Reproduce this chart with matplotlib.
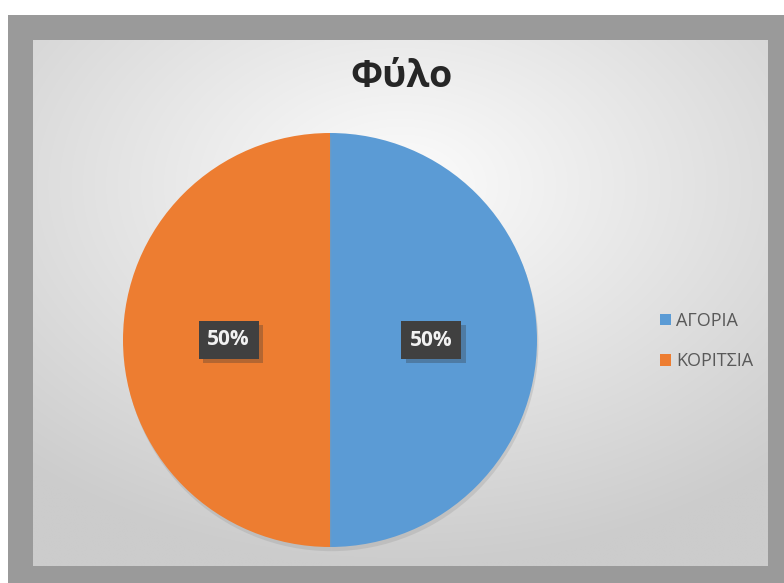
import matplotlib
matplotlib.use("Agg")
import matplotlib.pyplot as plt
import numpy as np
from matplotlib.patches import Rectangle
import matplotlib.patheffects as pe

categories = ["ΑΓΟΡΙΑ", "ΚΟΡΙΤΣΙΑ"]
values = [50, 50]
colors = ["#5B9BD5", "#ED7D31"]
title = "Φύλο"

plt.rcParams['font.family'] = ['Open Sans', 'DejaVu Sans']

W, H = 784, 583
fig = plt.figure(figsize=(W / 100, H / 100), dpi=100)
fig.patch.set_facecolor("white")

# background axes in pixel coordinates
bg = fig.add_axes([0, 0, 1, 1])
bg.set_xlim(0, W)
bg.set_ylim(H, 0)
bg.axis("off")
bg.add_patch(Rectangle((8, 15), W - 8, H - 15, facecolor="#9a9a9a", edgecolor="none"))
# inner panel with radial gradient
x0, x1, y0, y1 = 33, 768, 40, 566
nx, ny = 300, 220
xx, yy = np.meshgrid(np.linspace(-1, 1, nx), np.linspace(-1, 1, ny))
rr = np.sqrt((xx * 0.85) ** 2 + (yy + 0.45) ** 2 * 0.8)
rr = np.clip(rr / 1.3, 0, 1)
c_in = np.array([0.99, 0.99, 0.99])
c_out = np.array([0.80, 0.80, 0.80])
img = c_in[None, None, :] * (1 - rr[..., None]) + c_out[None, None, :] * rr[..., None]
bg.imshow(img, extent=(x0, x1, y1, y0), aspect="auto", interpolation="bilinear", zorder=1)

fig.text(401 / W, 1 - 77 / H, title, ha="center", va="center", fontsize=27,
         fontweight="bold", color="#262626")

# pie
cx, cy, r = 330, 340, 207
ax = fig.add_axes([(cx - r) / W, (H - cy - r) / H, 2 * r / W, 2 * r / H])
ax.axis("off")
wedges, texts, autotexts = ax.pie(values, colors=colors, startangle=90, counterclock=False,
                                  radius=1.0, autopct="%1.0f%%", pctdistance=0.49,
                                  wedgeprops=dict(linewidth=0, edgecolor="none"))
ax.set_xlim(-1, 1)
ax.set_ylim(-1, 1)
for w in wedges:
    w.set_path_effects([pe.SimplePatchShadow(offset=(1, -3), shadow_rgbFace="#999999", alpha=0.3),
                        pe.Normal()])
for t in autotexts:
    t.set_color("#f2f2f2")
    t.set_fontsize(15)
    t.set_fontweight("bold")
    t.set_bbox(dict(boxstyle="square,pad=0.42", facecolor="#404040", edgecolor="none"))
    t.get_bbox_patch().set_path_effects([pe.SimplePatchShadow(offset=(3, -3), shadow_rgbFace="#333333",
                                                              alpha=0.3),
                                         pe.Normal()])

handles = [Rectangle((0, 0), 1, 1, facecolor=c, edgecolor="none") for c in colors]
leg = fig.legend(handles, categories, loc="center left",
                 bbox_to_anchor=(644 / W, 1 - 341 / H), frameon=False,
                 fontsize=13, handlelength=0.6, handleheight=0.6,
                 handletextpad=0.3, labelspacing=1.25, labelcolor="#595959")

fig.savefig("out.png", dpi=100)
